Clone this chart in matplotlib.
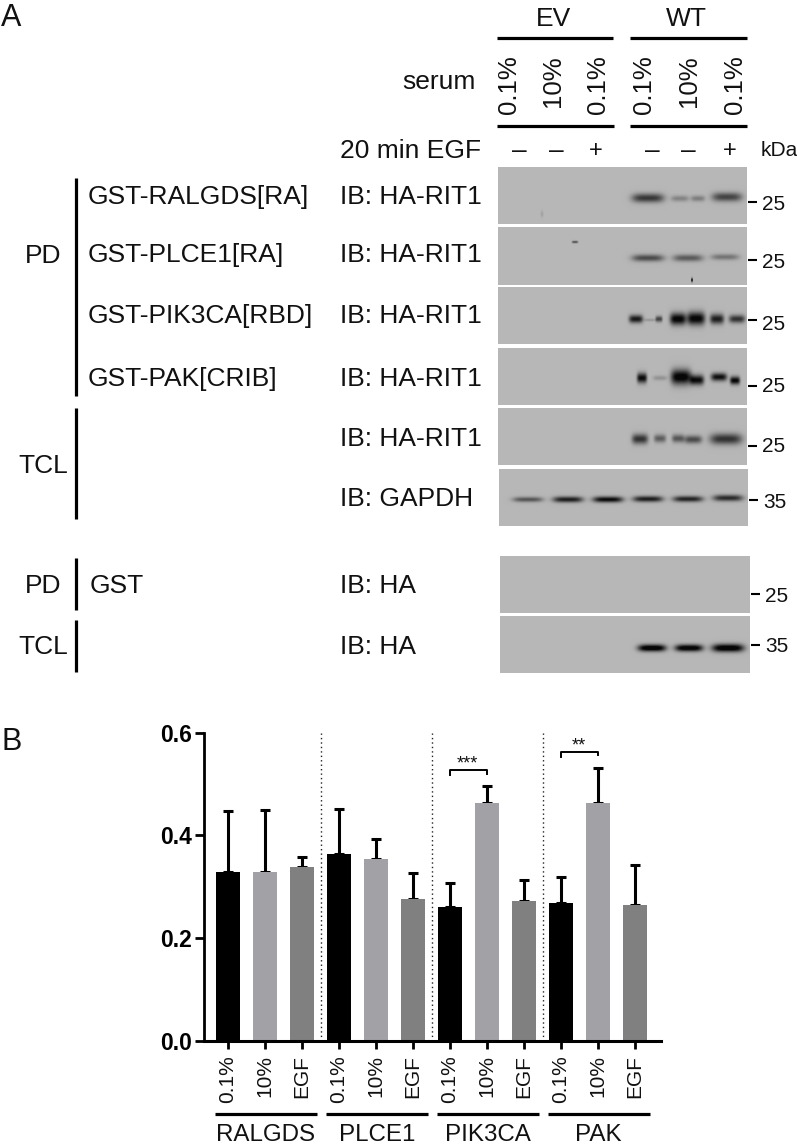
import numpy as np
import matplotlib
matplotlib.use("Agg")
import matplotlib.pyplot as plt

plt.rcParams['font.family'] = ['Liberation Sans', 'DejaVu Sans']

# ---- data ----
groups = ['RALGDS', 'PLCE1', 'PIK3CA', 'PAK']
conditions = ['0.1%', '10%', 'EGF']
mean_ralgds = [0.328, 0.328, 0.338]
mean_plce1 = [0.364, 0.355, 0.276]
mean_pik3ca = [0.260, 0.463, 0.272]
mean_pak = [0.268, 0.463, 0.265]
top_ralgds = [0.448, 0.449, 0.359]
top_plce1 = [0.451, 0.394, 0.327]
top_pik3ca = [0.308, 0.497, 0.313]
top_pak = [0.319, 0.532, 0.342]
bar_colors = ['#000000', '#a1a1a6', '#808080']
yticks = [0.0, 0.2, 0.4, 0.6]

rows_left = ['GST-RALGDS[RA]', 'GST-PLCE1[RA]', 'GST-PIK3CA[RBD]', 'GST-PAK[CRIB]']
row_y = [197, 255, 316, 379]
ib_labels = ['IB: HA-RIT1'] * 5 + ['IB: GAPDH', 'IB: HA', 'IB: HA']
ib_y = [197, 255, 316, 379, 439, 499, 586, 647]
mw_labels = ['25', '25', '25', '25', '25', '35', '25', '35']
mw_tick_y = [202, 260, 320, 386, 446, 500, 594, 645]
mw_label_y = [204, 262, 325, 387, 447, 503, 596, 646]
panels = [(498, 747, 167, 224), (498, 747, 227, 285), (498, 747, 287, 344),
          (498, 747, 348, 405), (498, 747, 408, 465), (499, 748, 469, 526),
          (500, 750, 556, 613), (500, 750, 616, 673)]
# band: panel, x, y, half-width, half-height, darkness
bands = [
    (0, 648, 198, 16, 4.5, .50), (0, 680, 198.5, 9, 3, .20), (0, 698, 198.5, 7, 3, .22), (0, 727, 197, 15, 4.5, .45),
    (0, 542, 214, 1.5, 3, .08),
    (1, 648, 258, 16, 3.5, .42), (1, 688, 258, 15, 3.5, .36), (1, 725, 257, 14, 3, .26),
    (1, 575, 242, 3, 1.2, .40), (1, 692, 280, 1, 2, .60),
    (2, 636, 319, 7, 4, .62), (2, 650, 320, 6, 1.5, .12), (2, 659, 319, 3.5, 3, .45),
    (2, 678, 319, 8, 6, .72), (2, 696, 318.5, 9, 6.5, .72), (2, 717, 319, 7, 5, .60), (2, 737, 319, 8, 4, .52),
    (3, 642, 378, 5, 5, .68), (3, 660, 378, 7, 2.5, .14),
    (3, 681, 377, 10, 7.5, .75), (3, 697, 380, 7, 5, .68), (3, 719, 377, 8, 4, .66), (3, 735, 380.5, 5, 4, .70),
    (4, 640, 439, 8, 5, .52), (4, 660, 438.5, 6, 4, .35), (4, 678, 438.5, 6, 4, .38), (4, 693, 439.5, 9, 4, .42), (4, 726, 439, 16, 5.5, .52),
    (5, 528, 499.5, 15, 2.6, .38), (5, 568, 499.5, 15, 3, .60), (5, 608, 499.5, 15, 3, .68),
    (5, 648, 499, 15, 3, .60), (5, 688, 499, 15, 3, .58), (5, 728, 498, 15, 3.2, .55),
    (7, 652, 648, 14, 3.5, .80), (7, 689, 648, 14, 3.5, .78), (7, 728, 648, 16, 4, .80),
]

W, H = 797, 1144
fig = plt.figure(figsize=(W / 100, H / 100), dpi=100, facecolor='white')

# ---- overlay in pixel coordinates ----
ov = fig.add_axes([0, 0, 1, 1])
ov.set_xlim(0, W)
ov.set_ylim(H, 0)
ov.axis('off')

BG = 0.715
for i, (x0, x1, y0, y1) in enumerate(panels):
    xs = np.arange(x0, x1) + 0.5
    ys = np.arange(y0, y1) + 0.5
    X, Y = np.meshgrid(xs, ys)
    img = np.full(X.shape, BG)
    for p, bx, by, hw, hh, d in bands:
        if p == i:
            img = img - d * np.exp(-((np.abs(X - bx) / hw) ** 4 + (np.abs(Y - by) / hh) ** 2))
    img = np.clip(img, 0.03, 1)
    ov.imshow(img, extent=(x0, x1, y1, y0), cmap='gray', vmin=0, vmax=1,
              aspect='auto', interpolation='bilinear', zorder=1)
ov.set_xlim(0, W)
ov.set_ylim(H, 0)


def T(x, y, s, size=19, ha='left', va='center', **kw):
    ov.text(x, y, s, fontsize=size, ha=ha, va=va, color='#111111', **kw)


def L(xs, ys, lw=2.3):
    ov.plot(xs, ys, color='black', lw=lw, solid_capstyle='butt', zorder=3)


T(1, 18, 'A', size=22)
T(1, 742, 'B', size=22)
T(554, 19, 'EV', ha='center')
T(686, 19, 'WT', ha='center')
L([497, 613], [38, 38])
L([630, 747], [38, 38])
L([497, 614], [126, 126])
L([630, 747], [126, 126])
T(476, 82, 'serum', ha='right')
T(340, 151, '20 min EGF')
top_x = [509, 553, 598, 644, 689, 735]
top_s = ['0.1%', '10%', '0.1%', '0.1%', '10%', '0.1%']
for x, s in zip(top_x, top_s):
    T(x, 55, s, size=18.6, ha='center', va='top', rotation=90)
egf_x = [519, 556, 596, 652, 688, 730]
egf_s = ['–', '–', '+', '–', '–', '+']
for x, s in zip(egf_x, egf_s):
    T(x, 151, s, size=19 if s == '–' else 17, ha='center')
T(761, 150, 'kDa', size=15)

for s, y in zip(rows_left, row_y):
    T(88, y, s)
for s, y in zip(ib_labels, ib_y):
    T(340, y, s)
for k, (s, ty, ly) in enumerate(zip(mw_labels, mw_tick_y, mw_label_y)):
    x = panels[k][1]
    L([x + 1, x + 10], [ty, ty], lw=1.5)
    T(x + 15, ly, s, size=15)

L([76, 76], [178, 396])
L([76, 76], [408, 519])
L([76, 76], [558, 610])
L([76, 76], [620, 672])
T(43, 256, 'PD', ha='center')
T(43, 466, 'TCL', ha='center')
T(43, 586, 'PD', ha='center')
T(43, 647, 'TCL', ha='center')
T(90, 586, 'GST')

# ---- bar chart ----
px_left, px_right, px_top, px_bot = 204, 661, 732.7, 1041
ax = fig.add_axes([px_left / W, 1 - px_bot / H, (px_right - px_left) / W, (px_bot - px_top) / H])
ax.patch.set_alpha(0)
step, first = 37.0, 228.0
ax.set_xlim((px_left - first) / step, (px_right - first) / step)
ax.set_ylim(0, 0.6)

means = mean_ralgds + mean_plce1 + mean_pik3ca + mean_pak
tops = top_ralgds + top_plce1 + top_pik3ca + top_pak
pos = np.arange(len(means))
cols = bar_colors * len(groups)
errs = [np.zeros(len(means)), np.array(tops) - np.array(means)]
ax.bar(pos, means, width=0.667, color=cols, zorder=2)
ax.errorbar(pos, means, yerr=errs, fmt='none', ecolor='black', elinewidth=2.2,
            capsize=3.4, capthick=2.2, zorder=1)
for v in [2.5, 5.5, 8.5]:
    ax.axvline(v, color='#222222', lw=1.0, ls=(0, (1, 2.2)), zorder=0)

for s in ['top', 'right']:
    ax.spines[s].set_visible(False)
ax.spines['left'].set_linewidth(2.0)
ax.spines['bottom'].set_linewidth(2.2)
ax.set_yticks(yticks)
ax.set_yticklabels([f'{v:.1f}' for v in yticks], fontsize=16.5, fontweight='bold', color='black')
ax.tick_params(axis='y', length=6.5, width=2.0, pad=2)
ax.set_xticks(pos)
ax.set_xticklabels(conditions * len(groups), rotation=90, fontsize=15, color='#111111')
ax.tick_params(axis='x', length=6, width=2.0, pad=4)

# brackets (data values in the chart's y scale)
for a, b, y, s in [(6, 7, 0.5265, '***'), (9, 10, 0.562, '**')]:
    ax.plot([a, a, b, b], [y - 0.009, y, y, y - 0.006], color='black', lw=1.4, clip_on=False)
    ax.text((a + b) / 2 - 0.02, y - 0.004, s, ha='center', va='bottom', fontsize=13, color='#111111',
            linespacing=1)

for k, g in enumerate(groups):
    a = k * 3 - 0.36
    b = k * 3 + 2.4
    x0 = first + a * step
    x1 = first + b * step
    L([x0, x1], [1114, 1114])
    T((x0 + x1) / 2, 1135, g, size=17.4, ha='center')

fig.savefig('out.png', dpi=100)
